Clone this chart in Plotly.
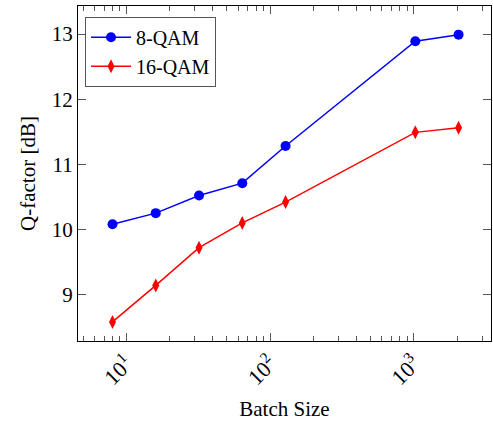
import math
import plotly.graph_objects as go

batch = [8, 16, 32, 64, 128, 1024, 2048]
q8 = [10.08, 10.25, 10.52, 10.71, 11.28, 12.89, 12.99]
q16 = [8.58, 9.14, 9.72, 10.10, 10.42, 11.49, 11.56]
xtick_vals = [10, 100, 1000]
xtick_text = ["10<sup>1</sup>", "10<sup>2</sup>", "10<sup>3</sup>"]
ytick_vals = [9, 10, 11, 12, 13]

FONT = "'Liberation Serif', 'Times New Roman', serif"
minor_vals = [m * 10 ** e for e in range(0, 4) for m in range(2, 10)]
XR = [0.663, 3.537]
YR = [8.287, 13.43]
TC = "#555555"

fig = go.Figure()
fig.add_trace(go.Scatter(x=batch, y=q8, mode="lines+markers", name="8-QAM",
                         line=dict(color="#0000ff", width=1.5),
                         marker=dict(symbol="circle", size=10, color="#0000ff")))
fig.add_trace(go.Scatter(x=batch, y=q16, mode="lines+markers", name="16-QAM",
                         line=dict(color="#ff0000", width=1.5),
                         marker=dict(symbol="diamond-tall", size=10, color="#ff0000")))
# invisible trace to carry the mirrored (top/right) tick axes
fig.add_trace(go.Scatter(x=[batch[0]], y=[q8[0]], xaxis="x2", yaxis="y2",
                         mode="markers", marker=dict(opacity=0), showlegend=False,
                         hoverinfo="skip"))

common_x = dict(type="log", range=XR, tickvals=xtick_vals,
                ticks="inside", ticklen=8, tickcolor=TC, tickwidth=1,
                minor=dict(tickvals=minor_vals, ticks="inside", ticklen=5,
                           tickcolor=TC, tickwidth=1),
                showgrid=False, zeroline=False)
common_y = dict(range=YR, tickvals=ytick_vals,
                ticks="inside", ticklen=8, tickcolor=TC, tickwidth=1,
                showgrid=False, zeroline=False)

fig.update_layout(
    width=493, height=422,
    margin=dict(l=78, r=2, t=6, b=81),
    paper_bgcolor="white", plot_bgcolor="white",
    font=dict(family=FONT, size=21, color="black"),
    showlegend=True,
    legend=dict(x=0.017, y=0.968, xanchor="left", yanchor="top",
                bordercolor="#555555", borderwidth=1, bgcolor="white",
                itemwidth=40, font=dict(size=20, family=FONT), tracegroupgap=0),
    xaxis=dict(**common_x, ticktext=xtick_text, tickangle=-45,
               showline=True, linecolor="black", linewidth=1, mirror=True,
               title=dict(text="Batch Size", font=dict(size=21, family=FONT), standoff=12),
               tickfont=dict(size=22, family=FONT)),
    yaxis=dict(**common_y,
               showline=True, linecolor="black", linewidth=1, mirror=True,
               title=dict(text="Q-factor [dB]", font=dict(size=21, family=FONT), standoff=10),
               tickfont=dict(size=21, family=FONT)),
    xaxis2=dict(**common_x, overlaying="x", side="top", anchor="y", showticklabels=False),
    yaxis2=dict(**common_y, overlaying="y", side="right", anchor="x", showticklabels=False),
)

fig.write_html("out.html")
